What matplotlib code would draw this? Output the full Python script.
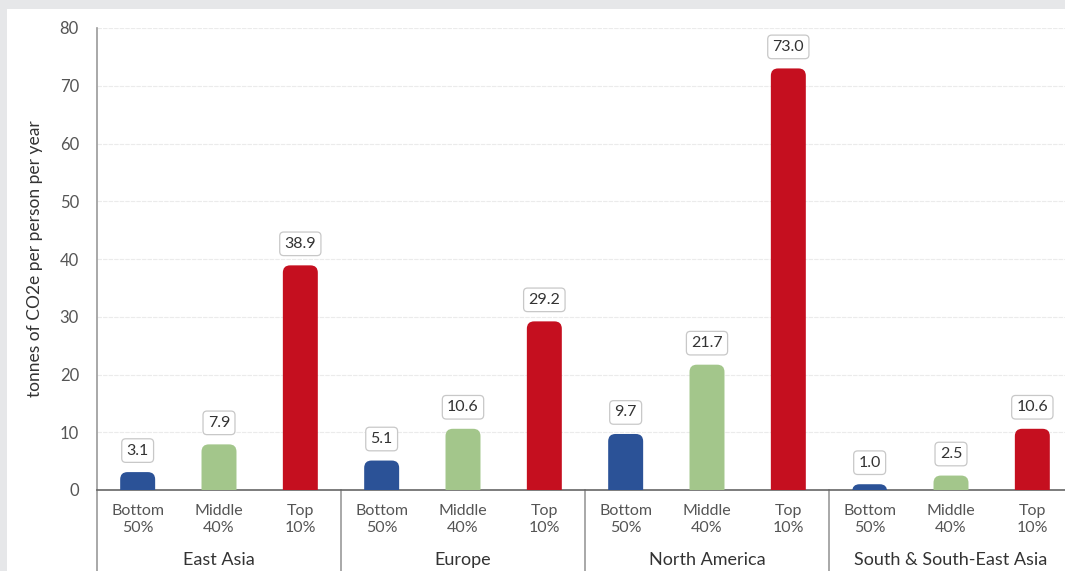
import numpy as np
import matplotlib
matplotlib.use("Agg")
import matplotlib.pyplot as plt
from matplotlib.patches import FancyBboxPatch, Rectangle
import matplotlib.transforms as mtransforms

# datos
regions = ["East Asia", "Europe", "North America", "South & South-East Asia"]
groups = ["Bottom\n50%", "Middle\n40%", "Top\n10%"]
bottom50 = [3.1, 5.1, 9.7, 1.0]
middle40 = [7.9, 10.6, 21.7, 2.5]
top10 = [38.9, 29.2, 73.0, 10.6]
colors = ["#2b5297", "#a3c68b", "#c50f1f"]

plt.rcParams['font.family'] = ['Lato', 'DejaVu Sans']

fig = plt.figure(figsize=(10.65, 5.71), dpi=100, facecolor="#e6e7e9")
# panel blanco
fig.patches.append(Rectangle((7 / 1065, 0), 1, 1 - 9 / 571, transform=fig.transFigure,
                             facecolor="white", edgecolor="none", zorder=-10))

ax = fig.add_axes([97 / 1065, 81 / 571, 976 / 1065, 462 / 571])
ax.set_facecolor("none")
ax.set_xlim(-0.5, 11.5)
ax.set_ylim(0, 80)

bw = 0.43
r = 0.09
aspect = (80 / 462) / (12 / 976)

for gi in range(len(regions)):
    vals = [bottom50[gi], middle40[gi], top10[gi]]
    for k, v in enumerate(vals):
        x = gi * 3 + k
        p = FancyBboxPatch((x - bw / 2, -3), bw, v + 3,
                           boxstyle=f"round,pad=0,rounding_size={r}",
                           mutation_aspect=aspect,
                           facecolor=colors[k], edgecolor="none", zorder=3)
        ax.add_patch(p)
        ax.annotate(f"{v:.1f}", (x, v), xytext=(0, 15.5), textcoords="offset points",
                    ha="center", va="center", fontsize=11.5, color="#333333", zorder=4,
                    bbox=dict(boxstyle="round,pad=0.3,rounding_size=0.25",
                              facecolor="white", edgecolor="#c8c8c8", linewidth=0.9))

# ejes
ax.set_yticks(np.arange(0, 81, 10))
ax.tick_params(axis="y", length=0, pad=13, labelsize=12, labelcolor="#555555")
ax.yaxis.grid(True, color="#ebebeb", linewidth=0.8, linestyle=(0, (4, 1)))
ax.set_axisbelow(True)
for s in ["top", "right"]:
    ax.spines[s].set_visible(False)
ax.spines["left"].set_color("#9a9a9a")
ax.spines["left"].set_linewidth(1.2)
ax.spines["bottom"].set_color("#666666")
ax.spines["bottom"].set_linewidth(1.2)

ax.set_xticks(np.arange(12))
ax.set_xticklabels(groups * 4, fontsize=11.5, color="#555555", linespacing=1.25)
ax.tick_params(axis="x", length=0, pad=10)

ax.set_ylabel("tonnes of CO2e per person per year", fontsize=12.5, color="#333333", labelpad=12)

trans = mtransforms.blended_transform_factory(ax.transData, ax.transAxes)
for b in [-0.5, 2.5, 5.5, 8.5]:
    ax.plot([b, b], [0, -0.2], transform=trans, color="#9a9a9a", linewidth=1.2, clip_on=False)
for gi, name in enumerate(regions):
    ax.text(gi * 3 + 1, -0.151, name, transform=trans, ha="center", va="center",
            fontsize=13, color="#333333")

fig.savefig("out.png", dpi=100, facecolor=fig.get_facecolor())
